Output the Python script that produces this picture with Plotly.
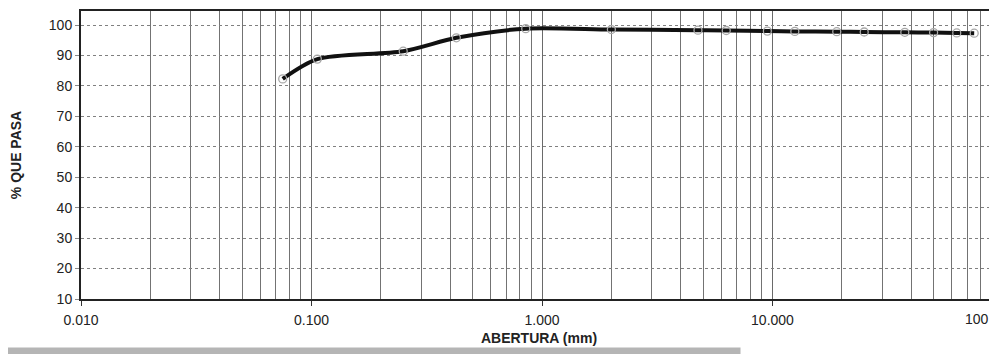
import plotly.graph_objects as go

# Sieve openings (mm) and percent passing
abertura = [0.075, 0.106, 0.25, 0.425, 0.85, 2.0, 4.75, 6.3, 9.5, 12.5, 19.0, 25.0, 37.5, 50.0, 63.0, 75.0]
pasa = [82.3, 88.8, 91.4, 95.8, 98.8, 98.5, 98.3, 98.2, 98.0, 97.9, 97.8, 97.7, 97.6, 97.5, 97.4, 97.3]

x_tickvals = [0.01, 0.1, 1, 10]
x_ticktext = ["0.010", "0.100", "1.000", "10.000"]
last_tick_label = "100"
y_tickvals = [10, 20, 30, 40, 50, 60, 70, 80, 90, 100]

minor_vals = [m * d for d in (0.01, 0.1, 1, 10) for m in range(2, 10)]

FONT = "Liberation Sans, Arial, sans-serif"

fig = go.Figure()
fig.add_trace(go.Scatter(
    x=abertura, y=pasa,
    mode="lines+markers",
    line=dict(color="#111111", width=4, shape="spline", smoothing=0.8),
    marker=dict(symbol="circle-open", size=8, color="#a8a8a8", line=dict(width=1.3)),
    showlegend=False,
))

fig.update_layout(
    width=989, height=346,
    margin=dict(l=73, r=0, t=3, b=55),
    paper_bgcolor="white", plot_bgcolor="white",
    font=dict(family=FONT, size=14, color="#222222"),
    xaxis=dict(
        type="log", range=[-2, 1.974], automargin=False,
        tickmode="array", tickvals=x_tickvals, ticktext=x_ticktext,
        ticks="outside", ticklen=5, tickcolor="#333", tickwidth=1,
        ticklabelstandoff=2,
        showgrid=True, gridcolor="#6a6a6a", gridwidth=1.4,
        minor=dict(tickmode="array", tickvals=minor_vals, showgrid=True,
                   gridcolor="#737373", gridwidth=1.3, ticks=""),
        showline=True, linecolor="#222", linewidth=2, mirror=True,
        tickfont=dict(size=14, family=FONT),
        title=dict(text="<b>ABERTURA (mm)</b>", font=dict(size=14, family=FONT), standoff=6),
        zeroline=False,
    ),
    yaxis=dict(
        range=[10, 104.6], automargin=False,
        tickmode="array", tickvals=y_tickvals,
        ticks="outside", ticklen=4, tickcolor="#888", tickwidth=1,
        showgrid=True, gridcolor="#808080", gridwidth=1, griddash="dot",
        showline=True, linecolor="#222", linewidth=2,
        tickfont=dict(size=14, family=FONT),
        title=dict(text="<b>% QUE PASA</b>", font=dict(size=14, family=FONT), standoff=26),
        zeroline=False,
    ),
)

fig.add_annotation(
    text=last_tick_label, xref="paper", yref="paper", x=0.978, y=-0.035,
    xanchor="center", yanchor="top", showarrow=False,
    font=dict(size=14, family=FONT, color="#222222"),
)

fig.add_shape(
    type="rect", xref="paper", yref="paper", x0=-0.09, x1=0.72, y0=-0.191, y1=-0.168,
    fillcolor="#b5b5b5", line=dict(width=0), layer="below",
)

fig.write_html("out.html")
